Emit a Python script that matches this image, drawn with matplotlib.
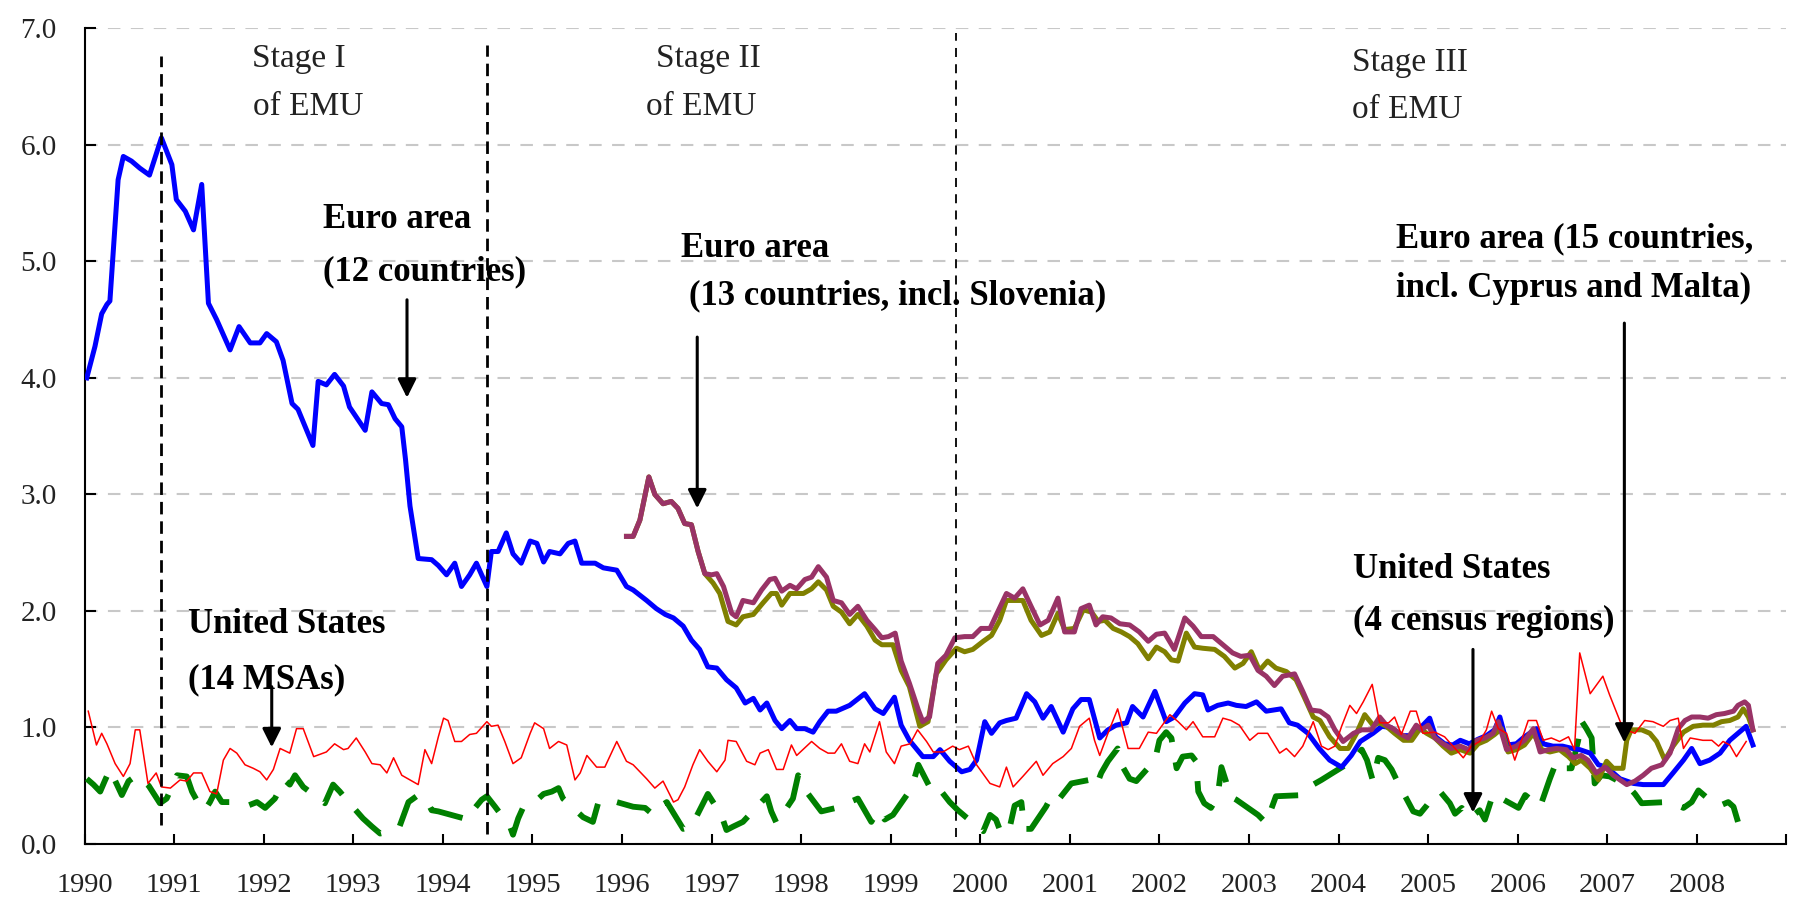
"""
House price dispersion: euro area vs United States, 1990-2008
"""

import numpy as np
import matplotlib
matplotlib.use('Agg')
import matplotlib.pyplot as plt

plt.rcParams['font.family'] = ['Liberation Serif', 'DejaVu Serif']

# ====== data (months since Jan 1990, value) ======
ea12_m = [0.3, 1.4, 2.3, 3.0, 3.4, 4.5, 5.2, 6.3, 7.4, 8.7, 10.3, 11.7, 12.3, 13.5, 14.6, 15.7, 16.6, 17.7,
          19.5, 20.7, 22.2, 23.5, 24.4, 25.7, 26.6, 27.8, 28.6, 30.6, 31.3, 32.4, 33.5, 34.7, 35.5, 37.6,
          38.5, 39.8, 40.7, 41.6, 42.5, 43.0, 43.6, 44.7, 46.5, 47.4, 48.5, 49.6, 50.5, 51.6, 52.5, 53.9,
          54.5, 55.4, 56.5, 57.4, 58.5, 59.7, 60.6, 61.5, 62.3, 63.7, 64.8, 65.7, 66.6, 68.4, 69.5, 71.3,
          72.6, 73.5, 75.3, 76.6, 77.8, 78.9, 80.2, 81.3, 82.4, 83.5, 84.7, 86.0, 87.3, 88.5, 89.6, 90.5,
          91.4, 92.5, 93.4, 94.5, 95.4, 96.5, 97.6, 98.5, 99.6, 100.7, 102.5, 104.5, 105.9, 107.0, 108.5,
          109.4, 110.5, 112.3, 113.7, 114.6, 115.9, 117.5, 118.6, 119.5, 120.6, 121.5, 122.6, 123.5, 124.8,
          126.2, 127.3, 128.4, 129.5, 131.1, 132.4, 133.5, 134.6, 136.0, 137.1, 138.2, 139.6, 140.4, 141.8,
          143.4, 144.9, 146.0, 147.4, 148.7, 149.8, 150.5, 151.8, 153.2, 154.3, 155.6, 157.0, 158.3, 160.3,
          161.4, 162.5, 163.9, 165.4, 166.8, 168.4, 169.7, 170.9, 172.6, 173.8, 175.0, 176.5, 177.8, 179.0,
          180.2, 181.0, 182.2, 183.3, 184.3, 185.5, 186.7, 187.8, 188.9, 189.6, 190.6, 191.8, 192.9, 194.5,
          195.4, 196.7, 198.0, 199.3, 200.3, 201.7, 202.8, 203.9, 205.7, 207.5, 208.8, 211.5, 212.8, 214.2,
          215.3, 216.4, 217.7, 219.1, 220.4, 221.5, 222.6, 223.5]
ea12_v = [4.00, 4.27, 4.55, 4.63, 4.66, 5.70, 5.90, 5.86, 5.80, 5.74, 6.06, 5.83, 5.53, 5.43, 5.27, 5.66, 4.64, 4.50,
          4.24, 4.44, 4.30, 4.30, 4.38, 4.31, 4.15, 3.78, 3.73, 3.42, 3.97, 3.94, 4.03, 3.93, 3.75, 3.55,
          3.88, 3.78, 3.77, 3.65, 3.58, 3.30, 2.90, 2.45, 2.44, 2.39, 2.31, 2.41, 2.21, 2.31, 2.41, 2.21,
          2.51, 2.51, 2.67, 2.49, 2.41, 2.60, 2.58, 2.42, 2.51, 2.49, 2.58, 2.60, 2.41, 2.41, 2.37, 2.35,
          2.21, 2.18, 2.09, 2.02, 1.97, 1.94, 1.87, 1.75, 1.67, 1.52, 1.51, 1.41, 1.34, 1.21, 1.25, 1.15,
          1.21, 1.06, 0.99, 1.06, 0.99, 0.99, 0.96, 1.05, 1.14, 1.14, 1.19, 1.29, 1.16, 1.12, 1.26,
          1.02, 0.89, 0.75, 0.75, 0.81, 0.71, 0.62, 0.64, 0.72, 1.05, 0.95, 1.04, 1.06, 1.08,
          1.29, 1.22, 1.08, 1.18, 0.96, 1.16, 1.24, 1.24, 0.91, 0.98, 1.02, 1.04, 1.18, 1.09,
          1.31, 1.05, 1.09, 1.21, 1.29, 1.28, 1.15, 1.19, 1.21, 1.19, 1.18, 1.22, 1.14, 1.16,
          1.04, 1.02, 0.95, 0.82, 0.72, 0.66, 0.76, 0.88, 0.95, 1.01, 1.00, 0.93, 0.93, 1.00,
          1.08, 0.92, 0.86, 0.85, 0.89, 0.86, 0.90, 0.93, 0.98, 1.09, 0.85, 0.86, 0.92, 0.99,
          0.86, 0.84, 0.84, 0.82, 0.81, 0.78, 0.68, 0.66, 0.56, 0.52, 0.51, 0.51, 0.61, 0.72,
          0.82, 0.69, 0.72, 0.78, 0.89, 0.95, 1.01, 0.85]

ea15_m = [72.6, 73.5, 74.4, 75.6, 76.4, 77.5, 78.6, 79.5, 80.4, 81.3, 82.2, 83.1, 84.0, 84.7, 85.6, 86.7, 87.3,
          88.2, 89.6, 90.7, 91.8, 92.5, 93.4, 94.5, 95.4, 96.5, 97.4, 98.3, 99.4, 100.3, 101.4, 102.5, 103.6,
          104.8, 105.9, 106.8, 107.7, 108.6, 109.4, 110.5, 111.7, 112.3, 113.2, 114.3, 115.4, 116.6, 117.9,
          119.0, 120.1, 121.3, 122.1, 123.5, 124.6, 125.7, 126.8, 128.0, 129.1, 130.4, 131.3, 132.6, 133.5,
          134.6, 135.5, 136.4, 137.5, 138.7, 140.0, 141.3, 142.5, 143.6, 144.7, 146.0, 147.4, 148.5, 149.6,
          151.2, 152.5, 153.8, 154.9, 156.1, 157.2, 158.3, 159.4, 160.5, 162.1, 163.2, 164.3, 165.5, 166.6,
          167.5, 168.6, 170.0, 171.1, 172.4, 173.5, 174.4, 175.3, 176.4, 177.3, 178.4, 179.1, 180.0, 180.9,
          182.0, 183.1, 184.3, 185.4, 186.5, 187.6, 188.7, 189.4, 190.5, 191.8, 192.9, 194.1, 195.0, 196.1,
          197.2, 198.5, 199.4, 200.5, 201.4, 202.5, 203.7, 204.8, 205.7, 206.6, 207.7, 208.8, 209.9, 211.3,
          212.4, 213.5, 214.4, 215.3, 216.4, 217.5, 218.6, 219.7, 220.9, 221.5, 222.4, 222.9, 223.5]
ea15_v = [2.64, 2.64, 2.78, 3.15, 3.00, 2.92, 2.94, 2.88, 2.75, 2.74, 2.51, 2.32, 2.31, 2.32, 2.21, 1.98, 1.95,
          2.09, 2.07, 2.18, 2.27, 2.28, 2.17, 2.22, 2.19, 2.27, 2.29, 2.38, 2.29, 2.09, 2.07, 1.97, 2.04,
          1.92, 1.84, 1.77, 1.78, 1.81, 1.57, 1.38, 1.15, 1.05, 1.09, 1.55, 1.62, 1.77, 1.78,
          1.78, 1.85, 1.85, 1.96, 2.15, 2.11, 2.19, 2.04, 1.88, 1.92, 2.11, 1.82, 1.82, 2.02,
          2.05, 1.88, 1.95, 1.94, 1.89, 1.88, 1.82, 1.74, 1.80, 1.81, 1.67, 1.94, 1.87, 1.78,
          1.78, 1.71, 1.64, 1.61, 1.62, 1.49, 1.44, 1.36, 1.44, 1.46, 1.31, 1.15, 1.14, 1.09,
          0.98, 0.88, 0.95, 0.98, 0.98, 1.09, 1.02, 0.99, 0.94, 0.91, 1.02, 0.98, 1.02, 0.91,
          0.86, 0.82, 0.84, 0.81, 0.89, 0.91, 0.95, 1.05, 0.81, 0.84, 0.89, 0.99, 0.79, 0.81,
          0.82, 0.81, 0.74, 0.76, 0.72, 0.61, 0.66, 0.59, 0.55, 0.51, 0.54, 0.59, 0.65, 0.68,
          0.78, 0.99, 1.06, 1.09, 1.09, 1.08, 1.11, 1.12, 1.14, 1.19, 1.22, 1.19, 0.98]

ea13_m = [72.6, 73.5, 74.4, 75.6, 76.4, 77.5, 78.6, 79.5, 80.4, 81.3, 82.2, 83.1, 84.2, 85.1, 86.2, 87.3, 88.2,
          89.6, 90.9, 92.0, 92.7, 93.4, 94.5, 96.3, 97.4, 98.3, 99.4, 100.3, 101.4, 102.5, 103.6, 104.8,
          105.9, 106.8, 108.3, 109.4, 110.5, 111.9, 113.0, 114.1, 115.4, 116.8, 117.9, 119.0, 120.4, 121.5,
          122.6, 123.5, 124.6, 125.7, 126.8, 128.2, 129.3, 130.4, 131.3, 132.6, 133.8, 134.9, 135.8, 136.7,
          137.8, 138.9, 140.0, 141.1, 142.5, 143.6, 144.7, 145.6, 146.5, 147.6, 148.7, 149.8, 151.4, 152.7,
          154.1, 155.2, 156.3, 157.4, 158.5, 159.6, 161.0, 162.3, 163.4, 164.6, 165.5, 166.8, 168.2, 169.3,
          170.4, 171.5, 172.6, 173.5, 174.4, 175.5, 176.7, 177.8, 178.9, 179.8, 180.9, 182.0, 183.1, 184.3,
          185.6, 186.7, 187.8, 188.9, 189.8, 190.7, 191.8, 192.9, 194.1, 195.2, 196.3, 197.6, 198.8, 199.7,
          200.5, 201.7, 202.8, 203.9, 204.8, 206.1, 206.6, 207.2, 208.6, 209.7, 210.6, 211.7, 212.8, 214.2,
          215.5, 216.8, 218.2, 219.3, 220.4, 221.5, 222.2, 222.9, 223.5]
ea13_v = [2.64, 2.64, 2.78, 3.15, 3.00, 2.92, 2.94, 2.88, 2.75, 2.74, 2.51, 2.32, 2.24, 2.15, 1.91, 1.88, 1.95,
          1.97, 2.07, 2.15, 2.15, 2.05, 2.15, 2.15, 2.19, 2.25, 2.18, 2.04, 1.99, 1.89, 1.97, 1.87,
          1.75, 1.71, 1.71, 1.49, 1.35, 1.01, 1.05, 1.46, 1.58, 1.68, 1.65, 1.67, 1.74, 1.79,
          1.92, 2.09, 2.09, 2.09, 1.92, 1.79, 1.82, 1.98, 1.84, 1.85, 2.01, 1.99, 1.91, 1.92,
          1.85, 1.82, 1.78, 1.72, 1.59, 1.69, 1.65, 1.58, 1.57, 1.81, 1.69, 1.68, 1.67, 1.61,
          1.51, 1.55, 1.65, 1.49, 1.57, 1.51, 1.48, 1.41, 1.26, 1.09, 1.06, 0.92, 0.82, 0.82,
          0.95, 1.11, 1.02, 1.04, 1.01, 0.95, 0.89, 0.89, 0.99, 0.95, 0.91, 0.84, 0.78, 0.81,
          0.78, 0.86, 0.89, 0.94, 0.99, 0.79, 0.81, 0.85, 0.95, 0.81, 0.79, 0.81, 0.75, 0.69,
          0.72, 0.65, 0.55, 0.71, 0.65, 0.65, 0.89, 0.98, 0.98, 0.95, 0.88, 0.72, 0.84, 0.96,
          1.01, 1.02, 1.02, 1.05, 1.06, 1.09, 1.16, 1.09, 0.98]

us14_m = [0.5, 1.6, 2.3, 3.0, 4.1, 5.2, 6.1, 6.8, 7.4, 8.5, 9.6, 10.3, 11.5, 12.8, 13.7, 14.6, 15.7, 16.8, 17.7,
          18.6, 19.5, 20.4, 21.5, 22.6, 23.5, 24.4, 25.3, 26.2, 27.5, 28.4, 29.3, 30.7, 32.4, 33.5, 34.7,
          35.3, 36.4, 37.6, 38.5, 39.6, 40.5, 41.4, 42.5, 43.6, 44.7, 45.6, 46.5, 47.4, 48.1, 48.7, 49.6,
          50.5, 51.6, 52.5, 53.9, 54.5, 55.4, 56.3, 57.4, 58.5, 59.7, 60.3, 61.5, 62.3, 63.5, 64.6, 65.7,
          66.4, 67.3, 68.6, 69.7, 71.3, 72.6, 73.5, 75.3, 76.4, 77.5, 78.9, 79.5, 80.4, 81.5, 82.4, 83.5,
          84.7, 85.8, 86.2, 87.3, 88.7, 89.8, 90.5, 91.6, 92.7, 93.6, 94.7, 95.4, 97.4, 98.5, 99.6, 100.5,
          101.4, 102.5, 103.6, 104.5, 105.2, 106.5, 107.4, 108.5, 109.4, 110.6, 111.6, 112.8, 113.7, 115.0,
          116.3, 117.2, 118.4, 119.5, 121.3, 122.6, 123.5, 124.4, 125.7, 127.5, 128.4, 129.7, 131.1, 132.2,
          133.3, 134.6, 135.3, 136.0, 137.1, 138.4, 139.8, 141.3, 142.5, 143.6, 145.4, 146.5, 147.6, 148.5,
          149.8, 151.4, 152.5, 153.6, 154.7, 156.1, 157.2, 158.5, 160.1, 161.0, 162.1, 163.2, 164.6, 165.7,
          166.6, 167.5, 168.4, 169.5, 170.4, 171.3, 172.5, 173.5, 174.7, 175.5, 176.4, 177.6, 178.4, 179.3,
          180.9, 182.2, 183.6, 184.7, 185.8, 186.9, 187.8, 188.5, 189.4, 190.5, 191.6, 192.5, 193.4, 194.5,
          195.4, 196.5, 197.6, 198.8, 199.6, 200.3, 201.7, 203.4, 204.3, 206.1, 207.7, 209.0, 210.1, 211.5,
          212.4, 213.5, 214.2, 215.1, 216.8, 218.0, 218.9, 219.5, 220.4, 221.3, 222.0, 222.6]
us14_v = [1.14, 0.85, 0.95, 0.86, 0.69, 0.58, 0.69, 0.98, 0.98, 0.52, 0.61, 0.49, 0.48, 0.55, 0.54, 0.61, 0.61, 0.45, 0.43,
          0.72, 0.82, 0.78, 0.68, 0.65, 0.62, 0.55, 0.64, 0.82, 0.78, 0.99, 0.99, 0.75, 0.79, 0.86, 0.81,
          0.82, 0.91, 0.79, 0.69, 0.68, 0.61, 0.74, 0.59, 0.55, 0.51, 0.81, 0.69, 0.92, 1.08, 1.06, 0.88,
          0.88, 0.94, 0.95, 1.05, 1.01, 1.02, 0.88, 0.69, 0.74, 0.95, 1.04, 0.99, 0.82, 0.88, 0.85, 0.55,
          0.61, 0.76, 0.66, 0.66, 0.88, 0.71, 0.68, 0.56, 0.48, 0.54, 0.36, 0.38, 0.49, 0.68, 0.81, 0.71,
          0.62, 0.72, 0.89, 0.88, 0.71, 0.68, 0.78, 0.81, 0.64, 0.64, 0.85, 0.76, 0.88, 0.82, 0.78, 0.78,
          0.86, 0.71, 0.69, 0.86, 0.79, 1.05, 0.79, 0.69, 0.84, 0.86, 0.98, 0.88, 0.79, 0.79,
          0.84, 0.81, 0.84, 0.68, 0.52, 0.49, 0.66, 0.49, 0.58, 0.71, 0.59, 0.69, 0.75, 0.82,
          1.01, 1.08, 0.89, 0.76, 0.95, 1.16, 0.82, 0.82, 0.96, 0.95, 1.11, 1.05, 0.98, 1.05,
          0.92, 0.92, 1.08, 1.06, 1.02, 0.89, 0.95, 0.95, 0.78, 0.82, 0.75, 0.84, 1.05, 0.84,
          0.81, 0.84, 1.01, 1.19, 1.12, 1.22, 1.37, 1.04, 1.04, 1.09, 0.94, 1.14, 1.14, 0.95,
          0.96, 0.92, 0.82, 0.74, 0.84, 0.88, 0.98, 1.14, 0.99, 0.95, 0.72, 0.89, 1.06, 1.06,
          0.89, 0.91, 0.88, 0.92, 0.81, 1.64, 1.29, 1.44, 1.28, 0.99, 0.95, 1.06, 1.05, 1.01,
          1.06, 1.08, 0.82, 0.91, 0.89, 0.89, 0.84, 0.88, 0.85, 0.75, 0.82, 0.88]

us4_m = [0.3, 1.2, 2.1, 2.7, 3.4, 5.0, 5.9, 7.0, 7.7, 8.6, 10.1, 11.0, 11.7, 12.4, 13.7, 14.4, 15.0, 16.1, 16.8,
         17.5, 18.4, 19.5, 21.9, 23.1, 24.2, 25.5, 26.8, 27.5, 28.2, 29.3, 32.2, 33.3, 34.2, 35.1, 37.3,
         38.5, 39.6, 40.9, 42.2, 43.4, 44.7, 45.8, 46.5, 47.4, 51.4, 52.3, 53.2, 53.9, 55.0, 57.0, 57.4,
         58.1, 58.8, 60.3, 61.5, 62.6, 63.5, 64.1, 66.8, 68.1, 68.8, 70.2, 73.5, 75.1, 76.2, 77.3, 78.0,
         80.2, 81.3, 82.4, 83.5, 85.3, 86.0, 86.9, 88.2, 91.4, 92.0, 92.7, 94.9, 95.6, 96.7, 98.7, 100.7,
         102.1, 103.6, 105.4, 106.3, 107.2, 108.3, 110.8, 111.7, 113.7, 114.8, 115.9, 117.0, 118.1, 120.4,
         121.3, 122.1, 122.8, 123.9, 124.6, 125.5, 125.9, 126.8, 128.8, 129.7, 130.6, 132.2, 134.6, 135.5,
         136.2, 137.1, 138.4, 139.1, 140.0, 140.9, 143.4, 144.0, 144.9, 145.6, 146.3, 147.1, 148.3, 148.9,
         149.2, 150.0, 150.9, 151.8, 152.3, 152.9, 153.4, 154.3, 157.2, 158.3, 159.6, 163.2, 164.6, 165.7,
         167.2, 170.0, 171.1, 171.8, 172.6, 173.3, 174.2, 175.1, 176.0, 178.0, 178.9, 179.8, 180.7, 181.6,
         182.9, 183.6, 184.5, 185.4, 186.3, 186.9, 187.6, 188.7, 192.1, 193.0, 193.8, 195.0, 196.3, 197.2,
         198.3, 199.2, 200.1, 200.5, 201.2, 201.9, 202.3, 203.2, 204.3, 205.5, 207.0, 207.7, 208.6, 211.9,
         212.8, 214.2, 215.3, 216.2, 218.2, 219.1, 220.2, 220.9, 221.5]
us4_v = [0.56, 0.51, 0.45, 0.54, 0.64, 0.42, 0.54, 0.59, 0.55, 0.50, 0.35, 0.39, 0.49, 0.59, 0.58, 0.45, 0.38, 0.29, 0.36,
         0.45, 0.36, 0.36, 0.33, 0.36, 0.31, 0.39, 0.55, 0.51, 0.59, 0.49, 0.35, 0.51, 0.45, 0.38, 0.22,
         0.15, 0.09, 0.11, 0.15, 0.36, 0.42, 0.38, 0.29, 0.28, 0.21, 0.31, 0.38, 0.41, 0.32, 0.15, 0.08,
         0.22, 0.32, 0.36, 0.43, 0.45, 0.48, 0.39, 0.23, 0.19, 0.35, 0.38, 0.32, 0.31, 0.25, 0.33, 0.36,
         0.13, 0.15, 0.29, 0.43, 0.25, 0.12, 0.15, 0.19, 0.41, 0.28, 0.18, 0.39, 0.59, 0.45, 0.28, 0.31,
         0.35, 0.39, 0.19, 0.29, 0.21, 0.25, 0.48, 0.68, 0.43, 0.45, 0.36, 0.29, 0.23, 0.11,
         0.25, 0.21, 0.09, 0.13, 0.33, 0.36, 0.13, 0.13, 0.32, 0.43, 0.39, 0.52, 0.55, 0.49,
         0.61, 0.71, 0.82, 0.66, 0.56, 0.54, 0.72, 0.89, 0.96, 0.91, 0.65, 0.75, 0.76, 0.71,
         0.45, 0.35, 0.31, 0.41, 0.66, 0.54, 0.41, 0.38, 0.25, 0.18, 0.41, 0.42, 0.51, 0.55,
         0.61, 0.72, 0.81, 0.72, 0.54, 0.74, 0.72, 0.64, 0.52, 0.28, 0.26, 0.33, 0.41, 0.45,
         0.35, 0.26, 0.31, 0.22, 0.26, 0.29, 0.21, 0.43, 0.31, 0.42, 0.38, 0.32, 0.56, 0.71,
         0.65, 0.65, 0.89, 1.06, 0.99, 0.91, 0.52, 0.59, 0.58, 0.54, 0.48, 0.43, 0.35, 0.36,
         0.35, 0.31, 0.36, 0.46, 0.35, 0.33, 0.36, 0.32, 0.19]

years = list(range(1990, 2010))
year_labels = [str(y) for y in range(1990, 2009)] + ['']
stage_lines = [1990.85, 1994.49, 1999.73]


def to_year(m):
    return 1990 + np.asarray(m) / 12.0


# ====== figure ======
fig = plt.figure(figsize=(18.06, 9.06), dpi=100)
ax = fig.add_axes([0.0468, 0.0684, 0.9424, 0.9004])

ax.plot(to_year(us4_m), us4_v, color='#008000', lw=4.2, dashes=(6, 3.5), solid_capstyle='butt', zorder=3)
ax.plot(to_year(ea12_m), ea12_v, color='#0000ff', lw=3.6, zorder=4)
ax.plot(to_year(ea13_m), ea13_v, color='#808000', lw=3.6, zorder=5)
ax.plot(to_year(ea15_m), ea15_v, color='#993366', lw=3.6, zorder=6)
ax.plot(to_year(us14_m), us14_v, color='#ff0000', lw=1.1, zorder=7)

# stage boundaries
ax.plot([stage_lines[0]] * 2, [0.16, 6.76], color='black', lw=2.0, dashes=(4.5, 2.5), zorder=8)
ax.plot([stage_lines[1]] * 2, [0.09, 6.86], color='black', lw=2.0, dashes=(4.5, 2.5), zorder=8)
ax.plot([stage_lines[2]] * 2, [0.06, 6.96], color='black', lw=1.3, dashes=(5, 4), zorder=8)

# ====== axes styling ======
ax.set_xlim(1990, 2009)
ax.set_ylim(0, 7)
ax.set_yticks(np.arange(0, 7.1, 1.0))
ax.set_yticklabels([f'{v:.1f}' for v in np.arange(0, 7.1, 1.0)])
ax.set_xticks(years)
ax.set_xticklabels(year_labels)
ax.tick_params(axis='y', direction='in', length=8, width=1.5, pad=20, labelsize=21, labelcolor='#222222')
ax.tick_params(axis='x', direction='in', length=7, width=1.5, pad=21, labelsize=20.5, labelcolor='#222222')
for s in ['top', 'right']:
    ax.spines[s].set_visible(False)
for s in ['left', 'bottom']:
    ax.spines[s].set_linewidth(1.5)
ax.grid(axis='y', color='#c8c8c8', lw=1.5, dashes=(6, 5))
ax.set_axisbelow(True)

# ====== text ======
stage_kw = dict(fontsize=24, color='#222222', va='baseline', ha='left')
ax.text(1991.87, 6.67, 'Stage I', **stage_kw)
ax.text(1991.88, 6.26, 'of EMU', **stage_kw)
ax.text(1996.38, 6.67, 'Stage II', **stage_kw)
ax.text(1996.27, 6.26, 'of EMU', **stage_kw)
ax.text(2004.15, 6.63, 'Stage III', **stage_kw)
ax.text(2004.15, 6.23, 'of EMU', **stage_kw)

lab_kw = dict(fontsize=25, fontweight='bold', color='black', va='baseline', ha='left')
ax.text(1992.66, 5.29, 'Euro area', **lab_kw)
ax.text(1992.66, 4.84, '(12 countries)', **lab_kw)
ax.text(1996.66, 5.04, 'Euro area', **lab_kw)
ax.text(1996.75, 4.63, '(13 countries, incl. Slovenia)', **lab_kw)
ax.text(2004.64, 5.12, 'Euro area (15 countries,', **lab_kw)
ax.text(2004.64, 4.69, 'incl. Cyprus and Malta)', **lab_kw)
ax.text(1991.16, 1.81, 'United States', **lab_kw)
ax.text(1991.16, 1.34, '(14 MSAs)', **lab_kw)
ax.text(2004.16, 2.28, 'United States', **lab_kw)
ax.text(2004.16, 1.84, '(4 census regions)', **lab_kw)

arrow_kw = dict(arrowstyle='-|>', color='black', lw=2.2, mutation_scale=28, shrinkA=0, shrinkB=0)
for x, y0, y1 in [(1993.60, 4.67, 3.83), (1996.84, 4.35, 2.88), (2007.19, 4.47, 0.87),
                  (1992.09, 1.35, 0.83), (2005.50, 1.67, 0.27)]:
    ax.annotate('', xy=(x, y1), xytext=(x, y0), arrowprops=arrow_kw, zorder=9)

plt.savefig('out.png', dpi=100)
